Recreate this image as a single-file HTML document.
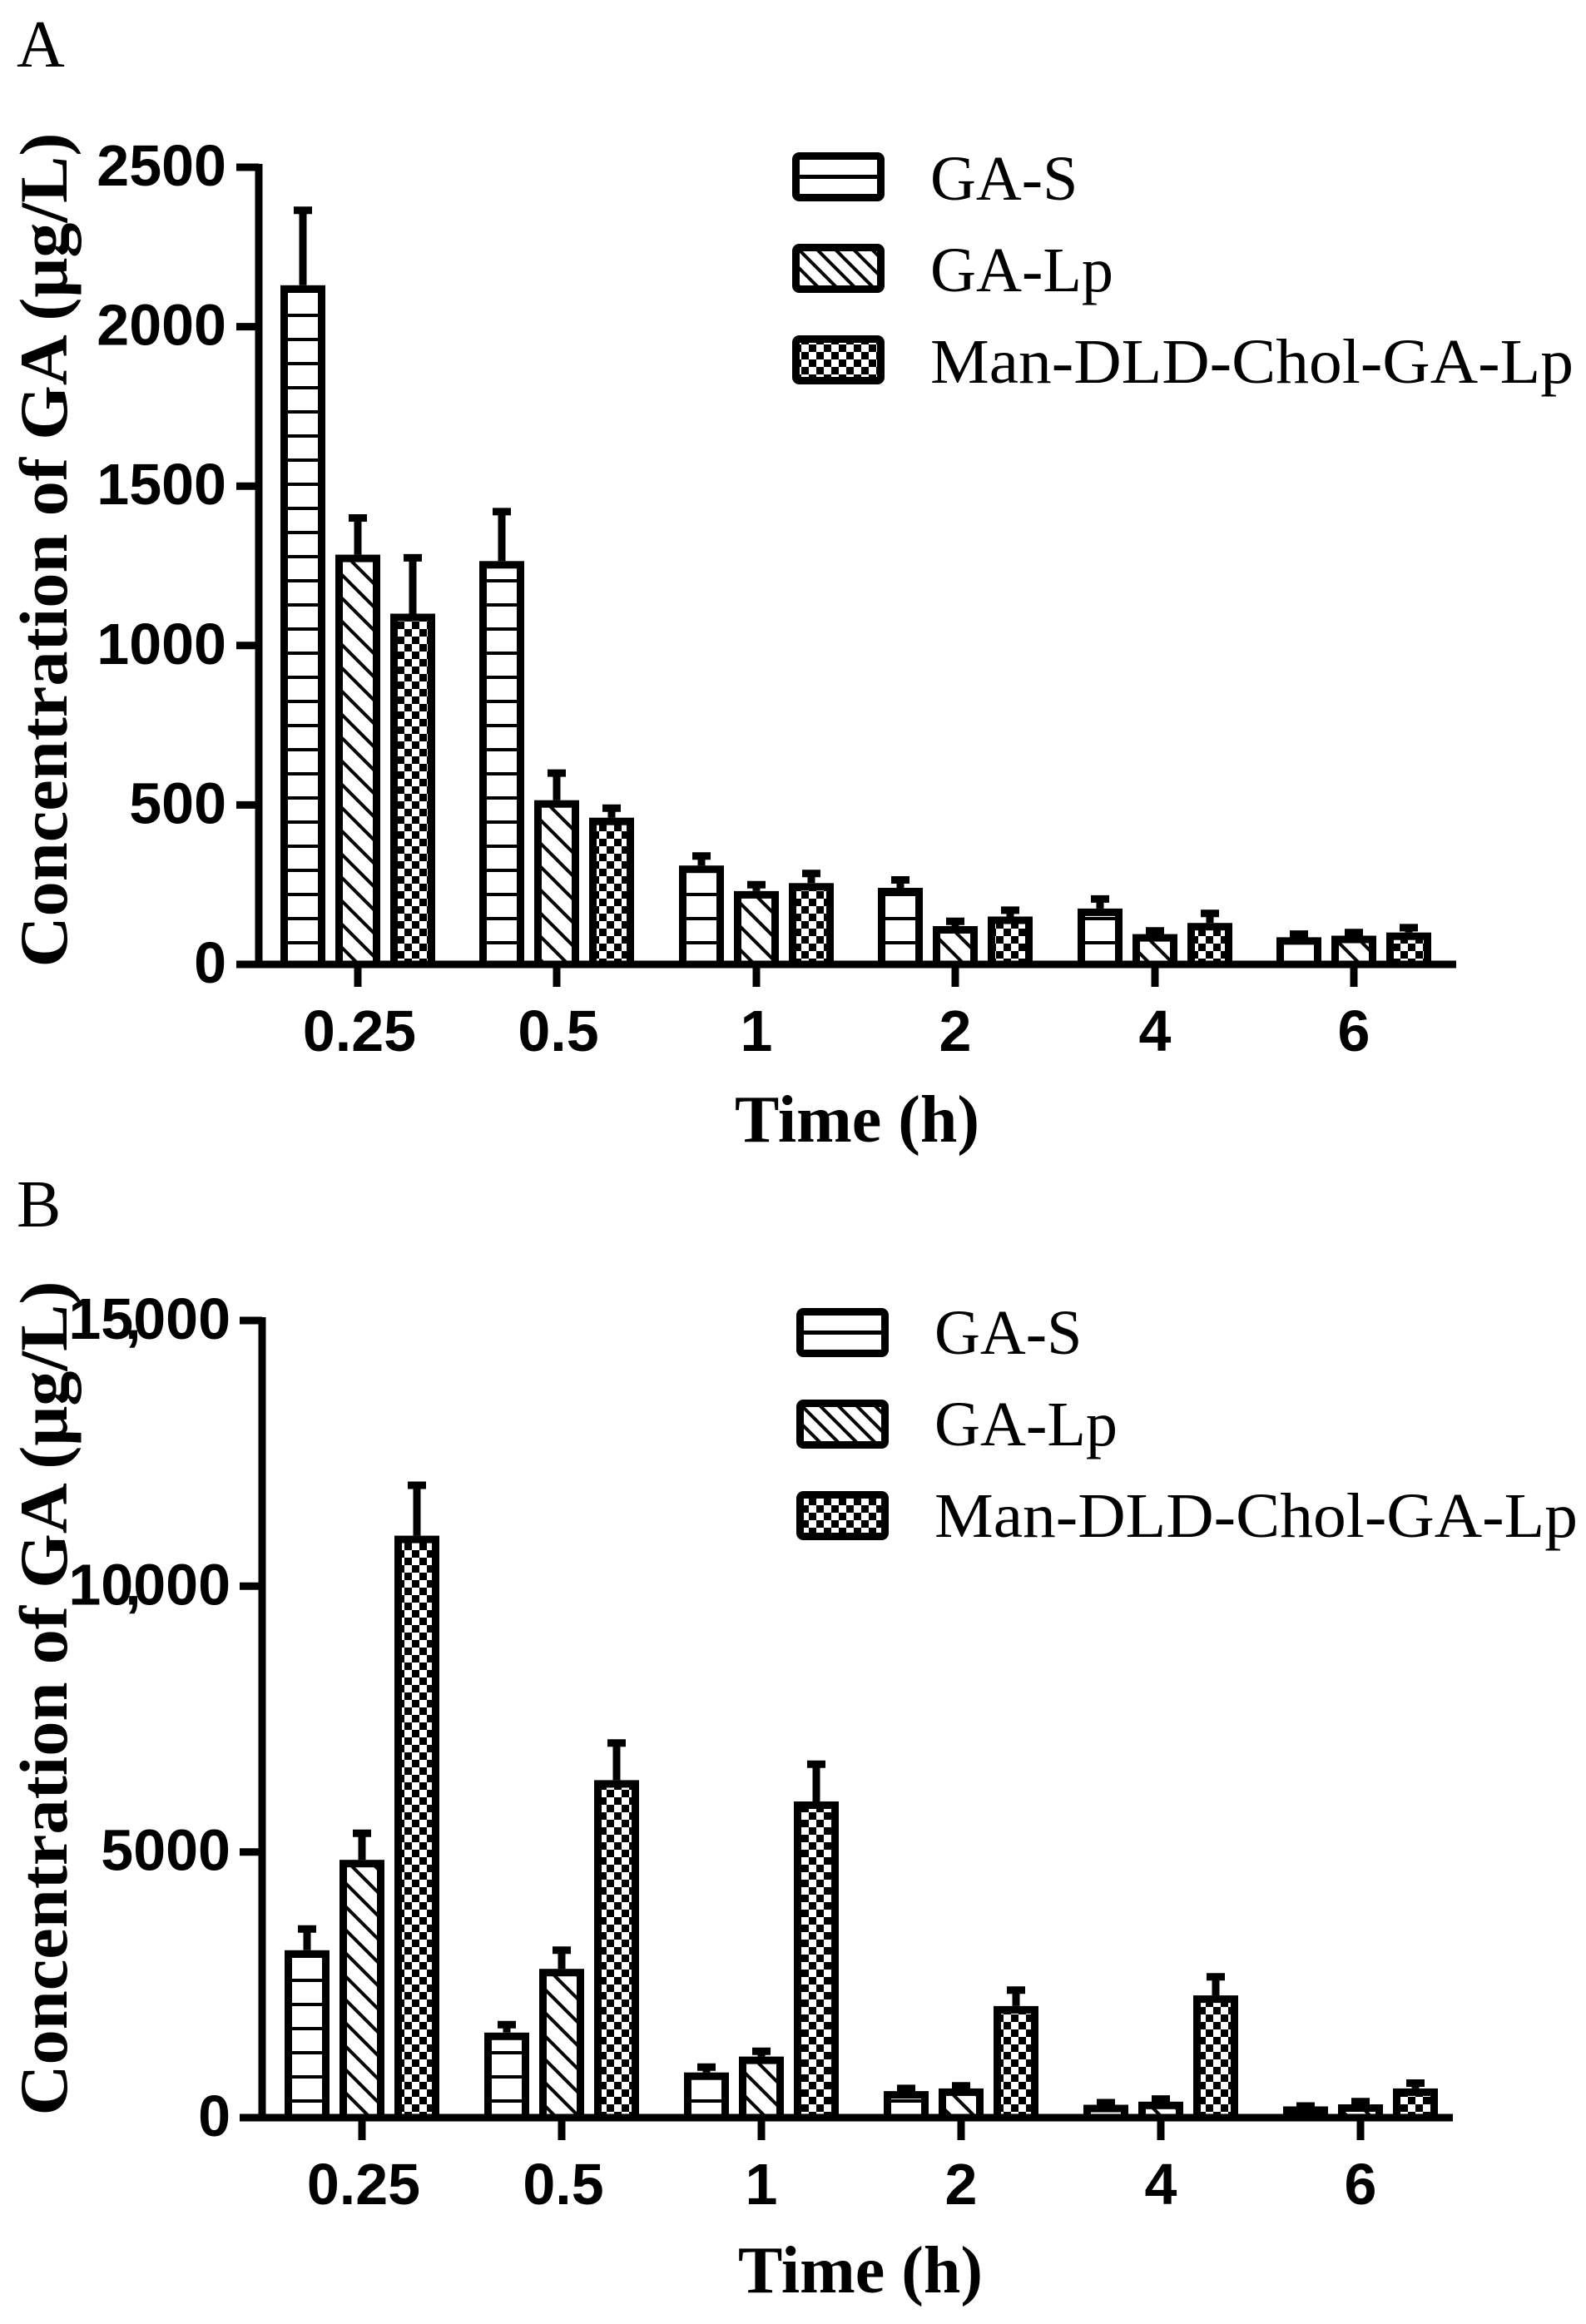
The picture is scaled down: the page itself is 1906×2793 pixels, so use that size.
<!DOCTYPE html>
<html><head><meta charset="utf-8"><style>html,body{margin:0;padding:0;background:#fff}svg{display:block}</style></head>
<body>
<svg width="1906" height="2793" viewBox="0 0 1906 2793" xmlns="http://www.w3.org/2000/svg">
<defs>
<pattern id="hz" patternUnits="userSpaceOnUse" width="10" height="29"><rect width="10" height="29" fill="#fff"/><rect y="0" width="10" height="4" fill="#000"/></pattern>
<pattern id="dg" patternUnits="userSpaceOnUse" width="28" height="28"><rect width="28" height="28" fill="#fff"/><path d="M0 0L28 28M-14 14L14 42M14 -14L42 14" stroke="#000" stroke-width="4"/></pattern>
<pattern id="ck" patternUnits="userSpaceOnUse" width="18" height="18"><rect width="18" height="18" fill="#fff"/><rect width="9" height="9" fill="#000"/><rect x="9" y="9" width="9" height="9" fill="#000"/></pattern>
<pattern id="ldg" patternUnits="userSpaceOnUse" width="22" height="22"><rect width="22" height="22" fill="#fff"/><path d="M0 0L22 22M-11 11L11 33M11 -11L33 11" stroke="#000" stroke-width="4"/></pattern>
</defs>

<text x="20" y="80" font-family="Liberation Serif, serif" font-size="80">A</text>
<text x="20" y="1474" font-family="Liberation Serif, serif" font-size="80">B</text>

<!-- ===== Panel A ===== -->
<g stroke="#000" stroke-width="9" fill="none">
<path d="M311 197V1163.5M284 201H311M284 392.6H311M284 584.2H311M284 775.8H311M284 967.4H311M284 1159H311"/>
<path d="M285 1159H1750M430 1159V1186M669 1159V1186M909 1159V1186M1148 1159V1186M1388 1159V1186M1627 1159V1186"/>
</g>
<g font-family="Liberation Sans, sans-serif" font-weight="bold" font-size="70" text-anchor="end">
<text x="272" y="223">2500</text><text x="272" y="414.6">2000</text><text x="272" y="606.2">1500</text><text x="272" y="797.8">1000</text><text x="272" y="989.4">500</text><text x="272" y="1181">0</text>
</g>
<g font-family="Liberation Sans, sans-serif" font-weight="bold" font-size="70" text-anchor="middle">
<text x="432" y="1263">0.25</text><text x="671" y="1263">0.5</text><text x="909" y="1263">1</text><text x="1148" y="1263">2</text><text x="1388" y="1263">4</text><text x="1627" y="1263">6</text>
</g>
<text x="1030" y="1372" font-family="Liberation Serif, serif" font-weight="bold" font-size="80" text-anchor="middle">Time (h)</text>
<text transform="translate(80,661) rotate(-90)" font-family="Liberation Serif, serif" font-weight="bold" font-size="82" text-anchor="middle" textLength="1003" lengthAdjust="spacingAndGlyphs">Concentration of GA (μg/L)</text>

<g stroke="#000" stroke-width="9">
<rect x="341.5" y="347.3" width="45" height="811.7" fill="url(#hz)"/>
<rect x="407.5" y="671.1" width="45" height="487.9" fill="url(#dg)"/>
<rect x="473.5" y="742" width="45" height="417" fill="url(#ck)"/>
<rect x="580.5" y="678.8" width="45" height="480.2" fill="url(#hz)"/>
<rect x="646.5" y="966.2" width="45" height="192.8" fill="url(#dg)"/>
<rect x="712.5" y="987.2" width="45" height="171.8" fill="url(#ck)"/>
<rect x="820.5" y="1044.7" width="45" height="114.3" fill="url(#hz)"/>
<rect x="886.5" y="1075.4" width="45" height="83.6" fill="url(#dg)"/>
<rect x="952.5" y="1065.8" width="45" height="93.2" fill="url(#ck)"/>
<rect x="1059.5" y="1071.5" width="45" height="87.5" fill="url(#hz)"/>
<rect x="1125.5" y="1117.5" width="45" height="41.5" fill="url(#dg)"/>
<rect x="1191.5" y="1106" width="45" height="53" fill="url(#ck)"/>
<rect x="1299.5" y="1096.4" width="45" height="62.6" fill="url(#hz)"/>
<rect x="1365.5" y="1127.1" width="45" height="31.9" fill="url(#dg)"/>
<rect x="1431.5" y="1113.7" width="45" height="45.3" fill="url(#ck)"/>
<rect x="1538.5" y="1130.9" width="45" height="28.1" fill="url(#hz)"/>
<rect x="1604.5" y="1129" width="45" height="30" fill="url(#dg)"/>
<rect x="1670.5" y="1125.2" width="45" height="33.8" fill="url(#ck)"/>
<path fill="none" d="M364 342.8V252.7M353 252.7H375M430 666.6V622.5M419 622.5H441M496 737.5V670.4M485 670.4H507M603 674.3V614.9M592 614.9H614M669 961.7V929.1M658 929.1H680M735 982.7V971.2M724 971.2H746M843 1040.2V1028.7M832 1028.7H854M909 1070.9V1063.2M898 1063.2H920M975 1061.3V1049.8M964 1049.8H986M1082 1067V1057.5M1071 1057.5H1093M1148 1113V1107.3M1137 1107.3H1159M1214 1101.5V1093.9M1203 1093.9H1225M1322 1091.9V1080.4M1311 1080.4H1333M1388 1122.6V1118.8M1377 1118.8H1399M1454 1109.2V1097.7M1443 1097.7H1465M1561 1126.4V1122.6M1550 1122.6H1572M1627 1124.5V1120.7M1616 1120.7H1638M1693 1120.7V1114.9M1682 1114.9H1704"/>
</g>
<path d="M285 1159H1750" stroke="#000" stroke-width="9"/>

<g stroke="#000" stroke-width="9">
<rect x="956.5" y="187.5" width="102" height="50" rx="4" fill="#fff"/>
<path d="M961 212.5H1054" stroke-width="5"/>
<rect x="956.5" y="297.5" width="102" height="50" rx="4" fill="url(#ldg)"/>
<rect x="956.5" y="407.5" width="102" height="50" rx="4" fill="url(#ck)"/>
</g>
<g font-family="Liberation Serif, serif" font-size="76">
<text x="1118" y="240">GA-S</text><text x="1118" y="350" textLength="220" lengthAdjust="spacingAndGlyphs">GA-Lp</text><text x="1118" y="460" textLength="773" lengthAdjust="spacingAndGlyphs">Man-DLD-Chol-GA-Lp</text>
</g>

<!-- ===== Panel B ===== -->
<g stroke="#000" stroke-width="9" fill="none">
<path d="M315 1583V2549.5M288 1587H315M288 1906.3H315M288 2225.7H315M288 2545H315"/>
<path d="M290 2545H1746M435 2545V2572M675 2545V2572M915 2545V2572M1155 2545V2572M1395 2545V2572M1635 2545V2572"/>
</g>
<g font-family="Liberation Sans, sans-serif" font-weight="bold" font-size="70" text-anchor="end">
<text x="277" y="1609">15<tspan dx="-10">,</tspan><tspan dx="-9.5">000</tspan></text>
<text x="277" y="1928.3">10<tspan dx="-10">,</tspan><tspan dx="-9.5">000</tspan></text>
<text x="277" y="2247.7">5000</text>
<text x="277" y="2567">0</text>
</g>
<g font-family="Liberation Sans, sans-serif" font-weight="bold" font-size="70" text-anchor="middle">
<text x="437" y="2649">0.25</text><text x="677" y="2649">0.5</text><text x="915" y="2649">1</text><text x="1155" y="2649">2</text><text x="1395" y="2649">4</text><text x="1635" y="2649">6</text>
</g>
<text x="1034" y="2755" font-family="Liberation Serif, serif" font-weight="bold" font-size="80" text-anchor="middle">Time (h)</text>
<text transform="translate(80,2041) rotate(-90)" font-family="Liberation Serif, serif" font-weight="bold" font-size="82" text-anchor="middle" textLength="1003" lengthAdjust="spacingAndGlyphs">Concentration of GA (μg/L)</text>

<g stroke="#000" stroke-width="9">
<rect x="346.5" y="2348.3" width="45" height="196.7" fill="url(#hz)"/>
<rect x="412.5" y="2239.7" width="45" height="305.3" fill="url(#dg)"/>
<rect x="478.5" y="1850.1" width="45" height="694.9" fill="url(#ck)"/>
<rect x="586.5" y="2447.3" width="45" height="97.7" fill="url(#hz)"/>
<rect x="652.5" y="2370.7" width="45" height="174.3" fill="url(#dg)"/>
<rect x="718.5" y="2143.9" width="45" height="401.1" fill="url(#ck)"/>
<rect x="826.5" y="2495.2" width="45" height="49.8" fill="url(#hz)"/>
<rect x="892.5" y="2476.1" width="45" height="68.9" fill="url(#dg)"/>
<rect x="958.5" y="2169.5" width="45" height="375.5" fill="url(#ck)"/>
<rect x="1066.5" y="2517.6" width="45" height="27.4" fill="url(#hz)"/>
<rect x="1132.5" y="2514.4" width="45" height="30.6" fill="url(#dg)"/>
<rect x="1198.5" y="2415.4" width="45" height="129.6" fill="url(#ck)"/>
<rect x="1306.5" y="2534" width="45" height="11" fill="url(#hz)"/>
<rect x="1372.5" y="2530.3" width="45" height="14.7" fill="url(#dg)"/>
<rect x="1438.5" y="2402.6" width="45" height="142.4" fill="url(#ck)"/>
<rect x="1546.5" y="2536" width="45" height="9" fill="url(#hz)"/>
<rect x="1612.5" y="2533.5" width="45" height="11.5" fill="url(#dg)"/>
<rect x="1678.5" y="2514.4" width="45" height="30.6" fill="url(#ck)"/>
<path fill="none" d="M369 2343.8V2318.3M358 2318.3H380M435 2235.2V2203.3M424 2203.3H446M501 1845.6V1785M490 1785H512M609 2442.8V2433.2M598 2433.2H620M675 2366.2V2343.8M664 2343.8H686M741 2139.4V2094.7M730 2094.7H752M849 2490.7V2484.3M838 2484.3H860M915 2471.6V2465.2M904 2465.2H926M981 2165V2120.3M970 2120.3H992M1089 2513.1V2509.9M1078 2509.9H1100M1155 2509.9V2506.7M1144 2506.7H1166M1221 2410.9V2391.7M1210 2391.7H1232M1329 2532.2V2527M1318 2527H1340M1395 2525.8V2522.6M1384 2522.6H1406M1461 2398.1V2375.7M1450 2375.7H1472M1569 2534V2531M1558 2531H1580M1635 2529V2525.8M1624 2525.8H1646M1701 2509.9V2503.5M1690 2503.5H1712"/>
</g>
<path d="M290 2545H1746" stroke="#000" stroke-width="9"/>

<g stroke="#000" stroke-width="9">
<rect x="961.5" y="1576.5" width="102" height="50" rx="4" fill="#fff"/>
<path d="M966 1601.5H1059" stroke-width="5"/>
<rect x="961.5" y="1686.5" width="102" height="50" rx="4" fill="url(#ldg)"/>
<rect x="961.5" y="1796.5" width="102" height="50" rx="4" fill="url(#ck)"/>
</g>
<g font-family="Liberation Serif, serif" font-size="76">
<text x="1123" y="1627">GA-S</text><text x="1123" y="1737" textLength="220" lengthAdjust="spacingAndGlyphs">GA-Lp</text><text x="1123" y="1847" textLength="773" lengthAdjust="spacingAndGlyphs">Man-DLD-Chol-GA-Lp</text>
</g>
</svg>
</body></html>
